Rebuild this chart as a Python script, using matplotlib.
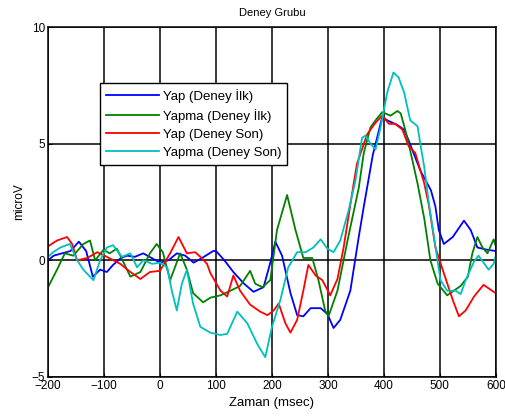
import matplotlib
matplotlib.use("Agg")
import matplotlib.pyplot as plt

plt.rcParams['font.family'] = ['Liberation Sans', 'DejaVu Sans']

# ---- data ----
t_blue = [-200, -190, -175, -160, -145, -132, -120, -107, -95, -84, -70, -59, -45, -30, -15,
          0, 15, 30, 45, 60, 75, 95, 100, 115, 131, 150, 167, 185, 197, 206, 218, 233, 245,
          256, 269, 287, 299, 310, 322, 340, 355, 364, 380, 397, 406, 424, 436, 444, 465,
          484, 492, 498, 507, 523, 543, 555, 567, 585, 600]
v_blue = [0.0, 0.2, 0.3, 0.4, 0.8, 0.4, -0.7, -0.4, -0.5, -0.2, 0.1, 0.2, 0.15, 0.3, 0.1,
          -0.1, 0.0, 0.3, 0.2, -0.1, 0.1, 0.4, 0.4, 0.0, -0.5, -1.0, -1.35, -1.15, -0.1, 0.8,
          0.2, -1.4, -2.35, -2.4, -2.05, -2.05, -2.3, -2.9, -2.55, -1.3, 1.0, 2.3, 4.5, 6.15,
          6.0, 5.8, 5.6, 5.15, 3.85, 3.0, 2.3, 1.3, 0.7, 1.0, 1.7, 1.3, 0.55, 0.45, 0.4]

t_green = [-200, -184, -170, -155, -137, -125, -116, -101, -90, -77, -59, -53, -35, -18, -6,
           5, 18, 36, 48, 59, 77, 90, 108, 126, 143, 161, 170, 183, 197, 209, 227, 242, 256,
           272, 283, 295, 301, 317, 335, 355, 364, 376, 385, 397, 412, 424, 430, 438, 447,
           460, 472, 483, 496, 513, 525, 537, 550, 558, 567, 576, 585, 596, 600]
v_green = [-1.15, -0.4, 0.3, 0.2, 0.7, 0.85, 0.0, 0.45, 0.3, 0.5, -0.4, -0.7, -0.5, 0.3, 0.7,
           0.35, -0.85, 0.3, -0.4, -1.4, -1.8, -1.6, -1.5, -1.3, -1.1, -0.45, -1.0, -1.15,
           -0.85, 1.3, 2.8, 1.3, 0.1, 0.1, -0.85, -2.15, -2.4, -1.3, 0.85, 3.1, 4.6, 5.7, 6.0,
           6.35, 6.2, 6.4, 6.3, 5.6, 4.7, 3.3, 1.8, 0.0, -1.0, -1.5, -1.3, -1.1, -0.7, 0.3,
           1.0, 0.55, 0.3, 0.9, 0.6]

t_red = [-200, -184, -166, -157, -148, -130, -112, -95, -71, -53, -35, -18, 0, 18, 33, 48, 63,
         72, 84, 90, 108, 120, 131, 143, 161, 179, 192, 203, 212, 224, 233, 245, 256, 265,
         278, 290, 304, 317, 328, 346, 352, 370, 385, 397, 409, 420, 433, 444, 456, 472, 480,
         492, 507, 523, 534, 546, 561, 578, 596, 600]
v_red = [0.6, 0.85, 1.0, 0.7, 0.0, 0.1, 0.35, 0.15, -0.15, -0.5, -0.8, -0.5, -0.45, 0.3, 1.0,
         0.3, 0.35, 0.15, -0.15, -0.55, -1.3, -1.55, -0.65, -1.3, -1.9, -2.2, -2.35, -2.15,
         -1.85, -2.7, -3.1, -2.55, -1.3, -0.2, -0.65, -0.85, -1.5, -0.8, 0.55, 3.3, 4.15, 5.4,
         5.9, 6.2, 5.85, 5.85, 5.6, 4.9, 4.6, 3.3, 2.4, 0.55, -0.55, -1.7, -2.4, -2.15, -1.55,
         -1.05, -1.35, -1.4]

t_cyan = [-200, -191, -178, -161, -148, -137, -119, -107, -95, -84, -68, -53, -41, -30, -14,
          0, 13, 21, 30, 39, 48, 59, 72, 90, 108, 120, 138, 156, 174, 188, 200, 215, 229, 245,
          260, 274, 287, 299, 310, 322, 337, 349, 361, 367, 376, 385, 394, 406, 417, 426, 436,
          447, 460, 465, 472, 480, 492, 501, 513, 528, 537, 546, 561, 569, 578, 587, 596, 600]
v_cyan = [0.15, 0.35, 0.55, 0.7, 0.0, -0.4, -0.85, 0.0, 0.55, 0.65, 0.15, 0.3, -0.3, 0.0,
          -0.15, -0.1, -0.3, -1.3, -2.15, -1.0, -0.4, -1.85, -2.85, -3.1, -3.2, -3.15, -2.2,
          -2.7, -3.6, -4.15, -2.85, -1.7, -0.3, 0.35, 0.35, 0.55, 0.9, 0.5, 0.35, 0.85, 2.15,
          3.4, 5.25, 5.35, 5.0, 4.75, 5.7, 7.2, 8.05, 7.85, 7.2, 6.0, 5.75, 5.0, 4.0, 2.5, 0.6,
          -0.85, -1.3, -1.3, -1.45, -0.85, -0.05, 0.2, -0.1, -0.4, -0.15, 0.2]

labels = ['Yap (Deney \u0130lk)', 'Yapma (Deney \u0130lk)', 'Yap (Deney Son)', 'Yapma (Deney Son)']
colors = ['#0000ff', '#008000', '#ff0000', '#00bfbf']
x_ticks = [-200, -100, 0, 100, 200, 300, 400, 500, 600]
y_ticks = [-5, 0, 5, 10]

# ---- plot ----
fig = plt.figure(figsize=(5.06, 4.2), dpi=100)
ax = fig.add_axes([0.095, 0.1024, 0.885, 0.8333])

series = [(t_blue, v_blue), (t_green, v_green), (t_red, v_red), (t_cyan, v_cyan)]
for (t, v), lab, col in zip(series, labels, colors):
    ax.plot(t, v, color=col, linewidth=1.3, label=lab)

ax.set_xlim(-200, 600)
ax.set_ylim(-5, 10)
ax.set_xticks(x_ticks)
ax.set_yticks(y_ticks)
ax.grid(True, color='black', linestyle='-', linewidth=1.1)
ax.set_axisbelow(True)
ax.tick_params(direction='in', labelsize=8.5, length=3, pad=2)
for s in ax.spines.values():
    s.set_linewidth(1.1)

ax.set_title('Deney Grubu', fontsize=8, pad=8)
ax.set_xlabel('Zaman (msec)', fontsize=9.5, labelpad=4)
ax.set_ylabel('microV', fontsize=8.5, labelpad=5)

leg = ax.legend(loc='upper left', bbox_to_anchor=(0.116, 0.84), borderaxespad=0,
                fontsize=9.5, handlelength=4.0, handletextpad=0.3, borderpad=0.45,
                labelspacing=0.45, fancybox=False, framealpha=1, edgecolor='black')
leg.get_frame().set_linewidth(1.0)

fig.savefig('out.png', dpi=100)
